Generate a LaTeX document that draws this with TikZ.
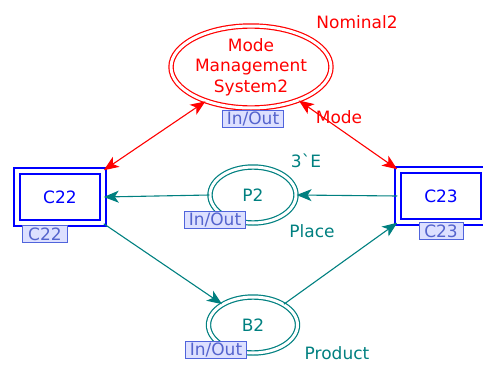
\documentclass[tikz,border=0pt]{standalone}
\usepackage{fontspec}
\setmainfont{DejaVu Sans}
\newfontfamily\plainfont{DejaVu Sans}
\usetikzlibrary{shapes.geometric,arrows.meta}
\definecolor{cpnteal}{RGB}{0,128,128}
\definecolor{tagfill}{RGB}{221,224,255}
\definecolor{tagdraw}{RGB}{80,100,220}
\definecolor{tagtext}{RGB}{85,100,205}
\begin{document}
\begin{tikzpicture}[x=1pt, y=-1pt,
    txt/.style={font=\fontsize{17}{20.5}\selectfont},
    place/.style={txt, ellipse, draw=cpnteal, double, double distance=3pt,
                  line width=1.2pt, inner sep=0pt, text=cpnteal},
    trans/.style={txt, rectangle, draw=blue, double, double distance=4.5pt,
                  line width=1.5pt, minimum width=86pt, minimum height=52pt, text=blue},
    tag/.style={txt, fill=tagfill, draw=tagdraw, line width=0.9pt, text=tagtext,
                inner xsep=4pt, inner ysep=0.5pt, minimum height=17pt},
    arc/.style={-{Stealth[length=15pt, width=12pt, inset=4pt]}, line width=1.1pt, cpnteal},
    modearc/.style={{Stealth[length=15pt, width=12pt, inset=4pt]}-{Stealth[length=15pt, width=12pt, inset=4pt]},
                    line width=1.1pt, red}
  ]
    \clip (0,0) rectangle (483,367);

    % places
    \node[place, draw=red, text=red, align=center, minimum width=160pt, minimum height=82pt]
      (mms) at (251,67) {Mode\\Management\\System2};
    \node[place, minimum width=86pt, minimum height=56pt] (p2) at (253,195) {P2};
    \node[place, minimum width=89pt, minimum height=56pt] (b2) at (253,325) {B2};

    % transitions
    \node[trans] (c22) at (60,197) {C22};
    \node[trans] (c23) at (441,196) {C23};

    % tags
    \node[tag] (mmstag) at (253,119) {In/Out};
    \node[tag] (p2tag) at (215,220) {In/Out};
    \node[tag] (b2tag) at (216,350) {In/Out};
    \node[tag, minimum width=45pt] (c22tag) at (45,234) {C22};
    \node[tag, minimum width=44pt] (c23tag) at (441,231) {C23};

    % inscriptions
    \node[txt, text=red] (nominal) at (357,22) {Nominal2};
    \node[txt, text=red] (mode) at (339,117) {Mode};
    \node[txt, text=cpnteal] (inscr) at (306,161) {\plainfont 3`E};
    \node[txt, text=cpnteal] (ptype) at (312,231) {Place};
    \node[txt, text=cpnteal] (btype) at (337,353) {Product};

    % arcs
    \draw[modearc] (c22.north east) -- (mms.217);
    \draw[modearc] (mms.-35) -- (c23.north west);
    \draw[arc] (c23.west) -- (p2.east);
    \draw[arc] (p2.west) -- (c22.east);
    \draw[arc] (c22.south east) -- (b2.146);
    \draw[arc] (b2.34) -- (c23.south west);
  \end{tikzpicture}
\end{document}
